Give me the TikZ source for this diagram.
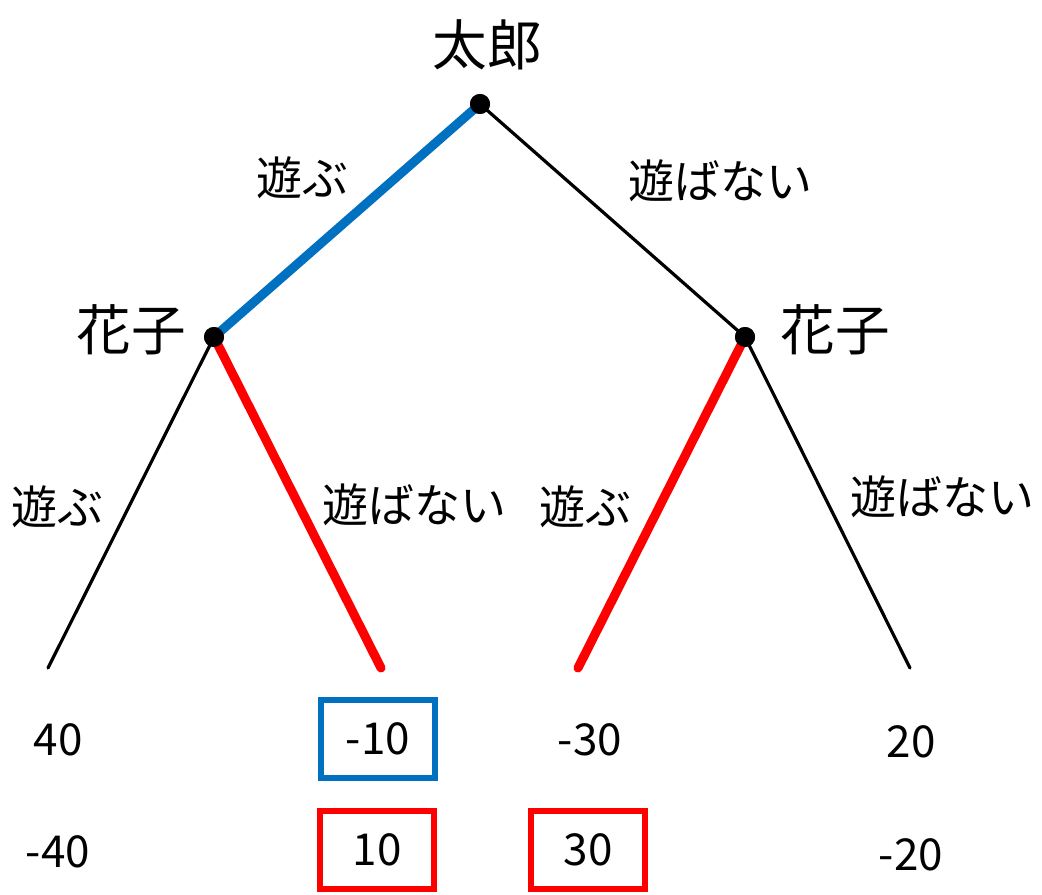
\documentclass[tikz,border=0pt]{standalone}
\usepackage{fontspec}
\setmainfont{Noto Sans CJK JP}
\definecolor{tblue}{HTML}{0070C0}
\definecolor{tred}{HTML}{FF0000}
\begin{document}
\begin{tikzpicture}[x=0.75pt,y=-0.75pt,
  dot/.style={circle,fill=black,inner sep=0pt,minimum size=15pt},
  thin edge/.style={draw=black,line width=2.4pt,line cap=round},
  blue edge/.style={draw=tblue,line width=6.8pt,line cap=round},
  red edge/.style={draw=tred,line width=6.8pt,line cap=round},
  player/.style={font=\fontsize{41pt}{44pt}\selectfont,inner sep=0pt},
  act/.style={font=\fontsize{34.5pt}{38pt}\selectfont,inner sep=0pt},
  pay/.style={font=\fontsize{33pt}{36pt}\selectfont,inner sep=0pt},
  paybox/.style={pay,draw,line width=4.5pt,minimum width=86pt,minimum height=58pt},
]
\useasboundingbox (0,0) rectangle (1042,895);
% nodes
\node[dot] (r) at (480,104) {};
\node[dot] (hl) at (214,337) {};
\node[dot] (hr) at (745,337) {};
\coordinate (l1) at (48,668);
\coordinate (l2) at (381,668);
\coordinate (l3) at (578,668);
\coordinate (l4) at (910,668);
% edges
\draw[blue edge] (r.center) -- (hl.center);
\draw[thin edge] (r.center) -- (hr.center);
\draw[thin edge] (hl.center) -- (l1);
\draw[red edge] (hl.center) -- (l2);
\draw[red edge] (hr.center) -- (l3);
\draw[thin edge] (hr.center) -- (l4);
% redraw dots on top
\node[dot] at (r) {};
\node[dot] at (hl) {};
\node[dot] at (hr) {};
% labels
\node[player] (tr) at (487,45) {太郎};
\node[player] (hln) at (131,330) {花子};
\node[player] (hrn) at (835,330) {花子};
\node[act] (a1) at (302,178) {遊ぶ};
\node[act] (a2) at (720,181) {遊ばない};
\node[act] (a3) at (58,507) {遊ぶ};
\node[act] (a4) at (414,505) {遊ばない};
\node[act] (a5) at (585,507) {遊ぶ};
\node[act] (a6) at (942,497) {遊ばない};
% payoffs
\node[pay] (p1a) at (58,740) {40};
\node[pay] (p1b) at (58,852) {-40};
\node[paybox,draw=tblue] (p2a) at (378,739) {-10};
\node[paybox,draw=tred] (p2b) at (377,850) {10};
\node[pay] (p3a) at (590,740) {-30};
\node[paybox,draw=tred] (p3b) at (588,850) {30};
\node[pay] (p4a) at (911,742) {20};
\node[pay] (p4b) at (911,855) {-20};
\end{tikzpicture}
\end{document}
